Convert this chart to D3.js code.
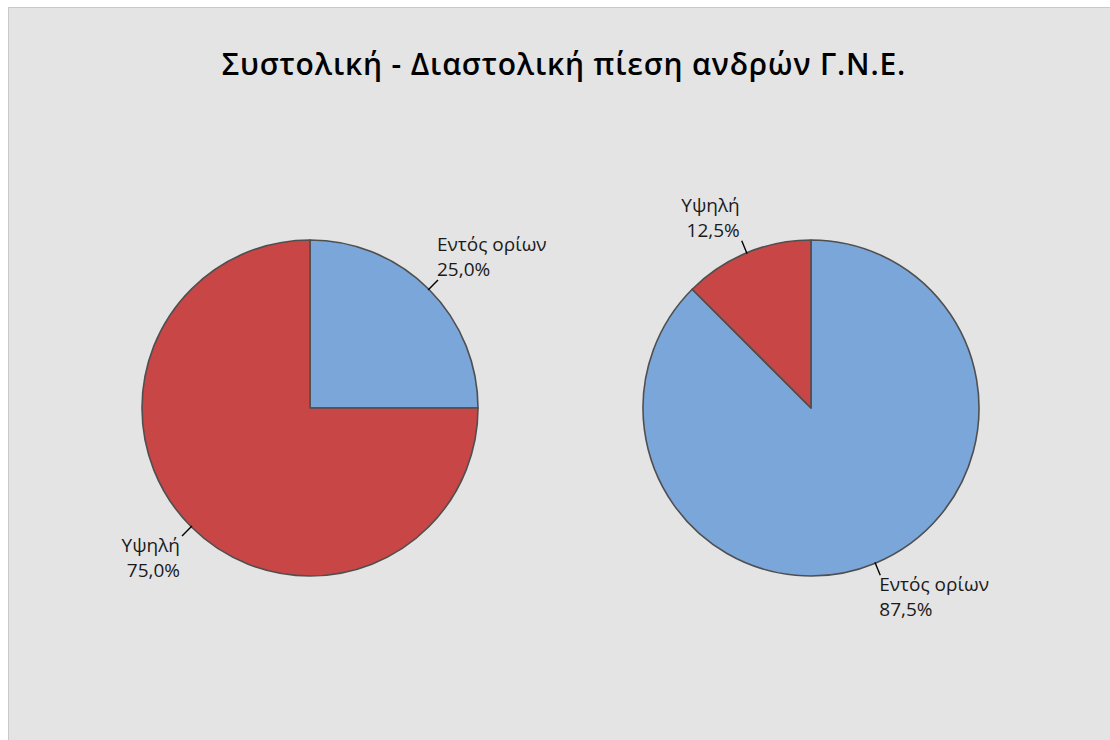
<!DOCTYPE html>
<html>
<head>
<meta charset="utf-8">
<script src="https://cdn.jsdelivr.net/npm/d3@7"></script>
<style>
  html, body { margin: 0; padding: 0; background: #ffffff; }
  svg { display: block; }
</style>
</head>
<body>
<svg id="chart" width="1110" height="740"></svg>
<script>
// Blood pressure categories and their shares (%) for men
const categories = ["Εντός ορίων", "Υψηλή"];
const systolic = [25.0, 75.0];   // Εντός ορίων, Υψηλή
const diastolic = [87.5, 12.5];  // Εντός ορίων, Υψηλή
const titleText = "Συστολική - Διαστολική πίεση ανδρών Γ.Ν.Ε.";

const W = 1110, H = 740;
const svg = d3.select("#chart");
const FONT = "'Open Sans', 'Noto Sans', sans-serif";

// Panel
svg.append("rect")
  .attr("x", 8.5).attr("y", 7.5)
  .attr("width", W).attr("height", H)
  .attr("fill", "#e4e4e4")
  .attr("stroke", "#c9c9c9")
  .attr("stroke-width", 1);

// Title
svg.append("text")
  .attr("x", 564).attr("y", 75)
  .attr("text-anchor", "middle")
  .attr("font-family", FONT)
  .attr("font-weight", 600)
  .attr("font-size", 30)
  .attr("letter-spacing", 0.85)
  .attr("fill", "#000")
  .text(titleText);

const color = d3.scaleOrdinal().domain(categories).range(["#7ba6da", "#c84645"]);
const R = 168;
const arc = d3.arc().innerRadius(0).outerRadius(R);
const pie = d3.pie().sort(null).value(d => d.value);

const fmt = v => d3.format(".1f")(v).replace(".", ",") + "%";

function drawPie(cx, cy, values) {
  const data = categories.map((c, i) => ({ cat: c, value: values[i] }));
  const g = svg.append("g").attr("transform", `translate(${cx},${cy})`);
  const arcs = pie(data);

  g.selectAll("path.slice")
    .data(arcs)
    .join("path")
    .attr("class", "slice")
    .attr("d", arc)
    .attr("fill", d => color(d.data.cat))
    .attr("stroke", "#4f4f4f")
    .attr("stroke-width", 1.6)
    .attr("stroke-linejoin", "round");

  // Leader lines and two-line labels (category, percentage)
  arcs.forEach(d => {
    const mid = (d.startAngle + d.endAngle) / 2;
    const sx = Math.sin(mid), sy = -Math.cos(mid);
    const p0 = [sx * (R - 1), sy * (R - 1)];
    const p1 = [sx * 181, sy * 181];
    g.append("line")
      .attr("x1", p0[0]).attr("y1", p0[1])
      .attr("x2", p1[0]).attr("y2", p1[1])
      .attr("stroke", "#000").attr("stroke-width", 1.4);

    const right = sx >= 0;
    const upper = sy < 0;
    const anchor = right ? "start" : "end";
    const tx = p1[0] + (right ? -1 : -2);
    const y1 = upper ? p1[1] - 29 : p1[1] + 16;
    const t = g.append("text")
      .attr("font-family", FONT)
      .attr("font-size", 19)
      .attr("fill", "#1a1a1a")
      .attr("text-anchor", anchor);
    t.append("tspan").attr("x", tx).attr("y", y1).text(d.data.cat);
    t.append("tspan").attr("x", tx).attr("y", y1 + 25).text(fmt(d.data.value));
  });
}

drawPie(310, 408, systolic);
drawPie(811, 408, diastolic);
</script>
</body>
</html>
